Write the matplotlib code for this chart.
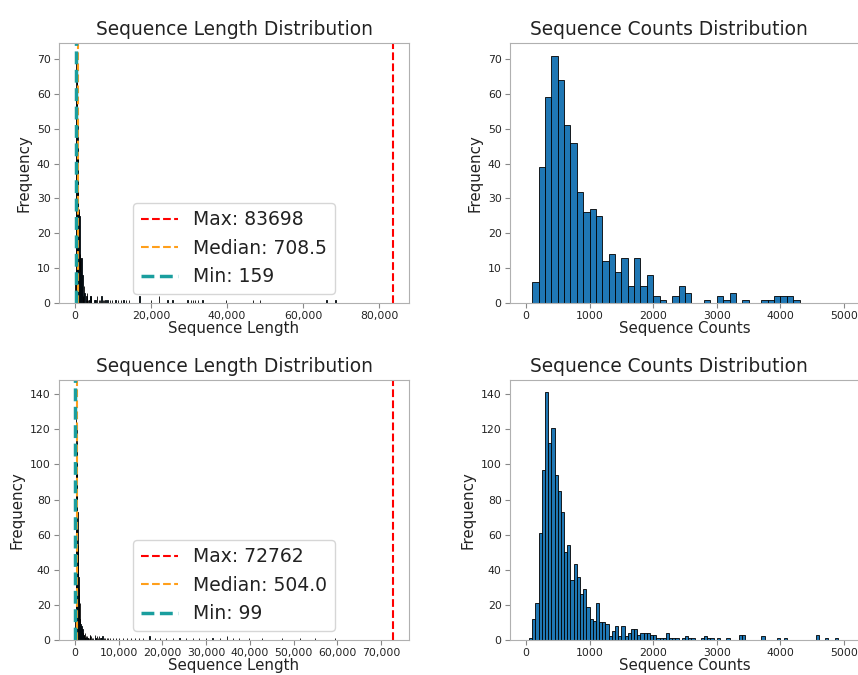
"""Sequence length / count distribution figure (two datasets, 2x2 grid).

Left column: full-range histogram of sequence lengths with max / median / min
markers.  Right column: the same histogram clipped to the 0-5000 range.

Writes ``out.png``.
"""

from __future__ import annotations

import matplotlib

matplotlib.use("Agg")
import matplotlib.pyplot as plt
from matplotlib.ticker import FuncFormatter, MultipleLocator

# ----------------------------------------------------------------------
# Data (bin counts)
# ----------------------------------------------------------------------
# Dataset A: bins of width 100 over 0..5000
A_BIN_WIDTH = 100
A_COUNTS = [
    0, 6, 39, 59, 71, 64, 51, 46, 32, 26,
    27, 25, 12, 14, 9, 13, 5, 13, 5, 8,
    2, 1, 0, 2, 5, 3, 0, 0, 1, 0,
    2, 1, 3, 0, 1, 0, 0, 1, 1, 2,
    2, 2, 1, 0, 0, 0, 0, 0, 0, 0,
]
# long tail beyond 5000 (bin start -> count)
A_TAIL_STARTS = [
    5100, 5400, 5800, 6200, 6600, 6900, 7300, 7600, 8000, 8500,
    9100, 9700, 10600, 11200, 12000, 12700, 13300, 14200, 16900, 19900,
    22100, 24300, 25600, 29600, 30400, 31000, 31600, 32300, 33500, 39700,
    46700, 48700, 66100, 68500, 83600,
]
A_TAIL_COUNTS = [
    1, 1, 2, 1, 1, 2, 1, 1, 1, 1,
    1, 1, 1, 1, 1, 1, 1, 1, 2, 1,
    2, 1, 1, 1, 1, 1, 1, 1, 1, 1,
    1, 1, 1, 1, 1,
]
A_STATS = {"max": 83698, "median": 708.5, "min": 159}

# Dataset B: bins of width 50 over 0..5000
B_BIN_WIDTH = 50
B_COUNTS = [
    0, 1, 12, 21, 61, 97, 141, 112, 121, 94,
    85, 73, 50, 54, 34, 43, 36, 26, 29, 19,
    12, 11, 21, 10, 10, 9, 2, 5, 8, 2,
    8, 2, 4, 6, 6, 3, 4, 4, 4, 3,
    3, 1, 1, 1, 4, 1, 1, 1, 0, 1,
    2, 1, 1, 0, 0, 1, 2, 1, 1, 0,
    1, 0, 0, 1, 0, 0, 0, 3, 3, 0,
    0, 0, 0, 0, 2, 0, 0, 0, 0, 1,
    0, 1, 0, 0, 0, 0, 0, 0, 0, 0,
    0, 3, 0, 0, 1, 0, 0, 1, 0, 0,
]
B_TAIL_STARTS = [
    5100, 5300, 5550, 5800, 6050, 6300, 6600, 6900, 7250, 7600,
    8000, 8700, 9400, 10100, 11000, 11900, 12800, 13700, 14600, 15550,
    17050, 18200, 19350, 20800, 22350, 23900, 25400, 26900, 28400, 29900,
    31450, 33100, 34800, 36100, 37500, 39750, 42750, 47300, 51450, 54850,
    59400, 72750,
]
B_TAIL_COUNTS = [
    2, 1, 2, 1, 1, 2, 1, 1, 1, 1,
    1, 1, 1, 1, 1, 1, 1, 1, 1, 1,
    2, 1, 1, 1, 1, 1, 1, 1, 1, 1,
    1, 1, 2, 1, 1, 1, 1, 1, 1, 1,
    1, 1,
]
B_STATS = {"max": 72762, "median": 504.0, "min": 99}

# ----------------------------------------------------------------------
# Style
# ----------------------------------------------------------------------
BAR_COLOR = "#1f77b4"
SPINE_COLOR = "#b0b0b0"
TEXT_COLOR = "#222222"
MAX_COLOR = "red"
MEDIAN_COLOR = "#ff9f1a"
MIN_COLOR = "#1a9e9e"

TITLE_FS = 13.4
LABEL_FS = 10.8
TICK_FS = 7.8
LEGEND_FS = 13.5


def style_axes(ax) -> None:
    for sp in ax.spines.values():
        sp.set_color(SPINE_COLOR)
    ax.tick_params(labelsize=TICK_FS, colors=TEXT_COLOR, color="#888888", pad=2.5)


def draw_full(ax, width, counts, tail_starts, tail_counts, stats, major) -> None:
    starts = [i * width for i in range(len(counts))]
    ax.bar(starts, counts, width=width, align="edge",
           color=BAR_COLOR, edgecolor="black", linewidth=0.6)
    ax.bar(tail_starts, tail_counts, width=width, align="edge",
           color=BAR_COLOR, edgecolor="black", linewidth=0.6)

    ax.axvline(stats["max"], color=MAX_COLOR, linestyle="--", linewidth=1.5,
               label=f"Max: {stats['max']}")
    ax.axvline(stats["median"], color=MEDIAN_COLOR, linestyle="--", linewidth=1.5,
               label=f"Median: {stats['median']}")
    ax.axvline(stats["min"], color=MIN_COLOR, linestyle="--", linewidth=2.5,
               label=f"Min: {stats['min']}")

    ax.xaxis.set_major_locator(MultipleLocator(major))
    ax.xaxis.set_major_formatter(FuncFormatter(lambda v, _: f"{v:,.0f}"))
    ax.set_title("Sequence Length Distribution", fontsize=TITLE_FS, color=TEXT_COLOR)
    ax.set_xlabel("Sequence Length", fontsize=LABEL_FS, color=TEXT_COLOR, labelpad=0)
    ax.set_ylabel("Frequency", fontsize=LABEL_FS, color=TEXT_COLOR)
    leg = ax.legend(loc="lower center", fontsize=LEGEND_FS)
    for t in leg.get_texts():
        t.set_color(TEXT_COLOR)
    style_axes(ax)


def draw_clipped(ax, width, counts) -> None:
    starts = [i * width for i in range(len(counts))]
    ax.bar(starts, counts, width=width, align="edge",
           color=BAR_COLOR, edgecolor="black", linewidth=0.6)
    # the original frame runs past the right edge of the image; the title
    # sits centred over the visible part
    ax.set_title("Sequence Counts Distribution", fontsize=TITLE_FS, color=TEXT_COLOR,
                 x=0.453)
    ax.set_xlabel("Sequence Counts", fontsize=LABEL_FS, color=TEXT_COLOR, labelpad=0)
    ax.set_ylabel("Frequency", fontsize=LABEL_FS, color=TEXT_COLOR)
    style_axes(ax)


def main() -> None:
    fig = plt.figure(figsize=(8.58, 6.75), dpi=100)
    fig.patch.set_facecolor("white")

    ax_tl = fig.add_axes([0.0688, 0.551, 0.408, 0.385])
    ax_tr = fig.add_axes([0.5944, 0.551, 0.408, 0.385])
    ax_bl = fig.add_axes([0.0688, 0.0519, 0.408, 0.385])
    ax_br = fig.add_axes([0.5944, 0.0519, 0.408, 0.385])

    draw_full(ax_tl, A_BIN_WIDTH, A_COUNTS, A_TAIL_STARTS, A_TAIL_COUNTS, A_STATS, 20000)
    draw_clipped(ax_tr, A_BIN_WIDTH, A_COUNTS)
    draw_full(ax_bl, B_BIN_WIDTH, B_COUNTS, B_TAIL_STARTS, B_TAIL_COUNTS, B_STATS, 10000)
    draw_clipped(ax_br, B_BIN_WIDTH, B_COUNTS)

    fig.savefig("out.png", dpi=100)
    plt.close(fig)


if __name__ == "__main__":
    main()
